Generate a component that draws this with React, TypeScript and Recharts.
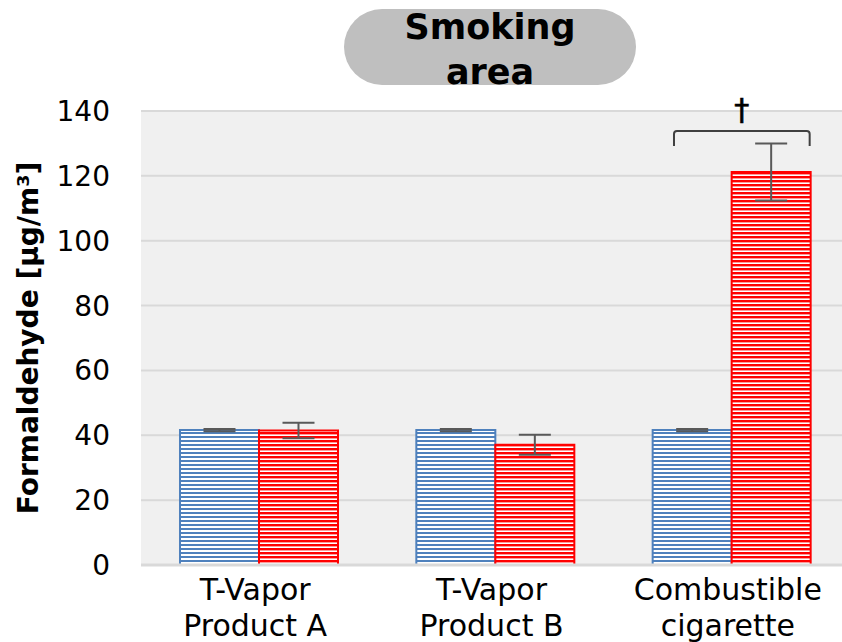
import React from 'react';
import { BarChart, Bar, XAxis, YAxis, CartesianGrid, ErrorBar, LabelList } from 'recharts';

const categories = ['T-Vapor\nProduct A', 'T-Vapor\nProduct B', 'Combustible\ncigarette'];
const backgroundValues = [41.6, 41.6, 41.6];
const backgroundErrors = [0.35, 0.35, 0.35];
const smokingValues = [41.5, 37.1, 121.2];
const smokingErrors = [2.4, 3.1, 8.8];
const yTicks = [0, 20, 40, 60, 80, 100, 120, 140];

// significance bracket over the combustible cigarette pair
const bracketIndex = 2;
const bracketTop = 133.8;
const bracketFoot = 129.2;
const bracketSymbol = '†';

const data = categories.map((name, i) => ({
  name,
  background: backgroundValues[i],
  backgroundErr: backgroundErrors[i],
  smoking: smokingValues[i],
  smokingErr: smokingErrors[i],
}));

const FONT = '"DejaVu Sans", Verdana, sans-serif';

const CategoryTick = ({ x, y, payload }: any) => {
  const lines = String(payload.value).split('\n');
  return (
    <text x={x - 4} y={y} textAnchor="middle" fontSize={30} fill="#000" fontFamily={FONT}>
      {lines.map((line, i) => (
        <tspan key={i} x={x - 4} dy={i === 0 ? 33 : 36}>
          {line}
        </tspan>
      ))}
    </text>
  );
};

const YLabel = ({ viewBox }: any) => {
  const cy = viewBox.y + viewBox.height / 2;
  const cx = 28;
  return (
    <text
      x={cx}
      y={cy}
      transform={`rotate(-90 ${cx} ${cy})`}
      textAnchor="middle"
      dominantBaseline="central"
      fontSize={28}
      fontWeight="bold"
      fill="#000"
      fontFamily={FONT}
    >
      Formaldehyde [μg/m³]
    </text>
  );
};

// drawn from the red bar's own geometry, so it follows the chart's scales
const Bracket = (props: any) => {
  if (props.index !== bracketIndex) return null;
  const x = Number(props.x);
  const y = Number(props.y);
  const w = Number(props.width);
  const h = Number(props.height);
  const v = Number(props.value);
  const base = y + h;
  const k = h / v;
  const yTop = base - bracketTop * k;
  const yFoot = base - bracketFoot * k;
  const x0 = x - w + 0.27 * w;
  const x1 = x + w - 1;
  return (
    <g>
      <path
        d={`M${x0},${yFoot} L${x0},${yTop + 3} Q${x0},${yTop} ${x0 + 3},${yTop} L${x1 - 3},${yTop} Q${x1},${yTop} ${x1},${yTop + 3} L${x1},${yFoot}`}
        fill="none"
        stroke="#404040"
        strokeWidth={2}
      />
      <text
        x={(x0 + x1) / 2}
        y={yTop - 11}
        textAnchor="middle"
        fontSize={30}
        fill="#000"
        stroke="#000"
        strokeWidth={0.6}
        fontFamily={FONT}
      >
        {bracketSymbol}
      </text>
    </g>
  );
};

const App: React.FC = () => {
  return (
    <div
      style={{
        position: 'absolute',
        left: 0,
        top: 0,
        width: 842,
        height: 642,
        overflow: 'hidden',
        background: '#fff',
        fontFamily: FONT,
      }}
    >
      <svg width={0} height={0} style={{ position: 'absolute' }}>
        <defs>
          <pattern id="stripeBlue" patternUnits="userSpaceOnUse" width={8} height={4}>
            <rect width={8} height={4} fill="#fff" />
            <rect width={8} height={2} fill="#4f81bd" />
          </pattern>
          <pattern id="stripeRed" patternUnits="userSpaceOnUse" width={8} height={4}>
            <rect width={8} height={4} fill="#fff" />
            <rect width={8} height={2.4} fill="#ff0000" />
          </pattern>
        </defs>
      </svg>

      <div
        style={{
          position: 'absolute',
          left: 344,
          top: 9,
          width: 292,
          height: 76,
          borderRadius: 38,
          background: '#bfbfbf',
        }}
      />
      <div
        style={{
          position: 'absolute',
          left: 344,
          top: 5,
          width: 292,
          textAlign: 'center',
          fontSize: 35,
          fontWeight: 'bold',
          lineHeight: '45px',
          color: '#000',
        }}
      >
        Smoking
        <br />
        area
      </div>

      <BarChart
        width={860}
        height={642}
        data={data}
        margin={{ top: 111, right: 10, bottom: 0, left: 0 }}
        barCategoryGap="16.5%"
        barGap={0}
      >
        <CartesianGrid vertical={false} stroke="#d9d9d9" strokeWidth={2} fill="#f0f0f0" />
        <XAxis
          dataKey="name"
          height={77}
          tick={<CategoryTick />}
          tickLine={false}
          tickSize={0}
          axisLine={{ stroke: '#d9d9d9', strokeWidth: 3 }}
          interval={0}
        />
        <YAxis
          width={141}
          domain={[0, 140]}
          ticks={yTicks}
          tickLine={false}
          axisLine={false}
          tickSize={0}
          tickMargin={31}
          tick={{ fontSize: 28, fill: '#000', fontFamily: FONT }}
          label={{ content: <YLabel /> }}
        />
        <Bar
          dataKey="background"
          fill="url(#stripeBlue)"
          stroke="#4f81bd"
          strokeWidth={2}
          isAnimationActive={false}
        >
          <ErrorBar dataKey="backgroundErr" width={16} stroke="#595959" strokeWidth={2} />
        </Bar>
        <Bar
          dataKey="smoking"
          fill="url(#stripeRed)"
          stroke="#ff0000"
          strokeWidth={2}
          isAnimationActive={false}
        >
          <ErrorBar dataKey="smokingErr" width={16} stroke="#595959" strokeWidth={2} />
          <LabelList dataKey="smoking" content={<Bracket />} />
        </Bar>
      </BarChart>
    </div>
  );
};

export default App;
